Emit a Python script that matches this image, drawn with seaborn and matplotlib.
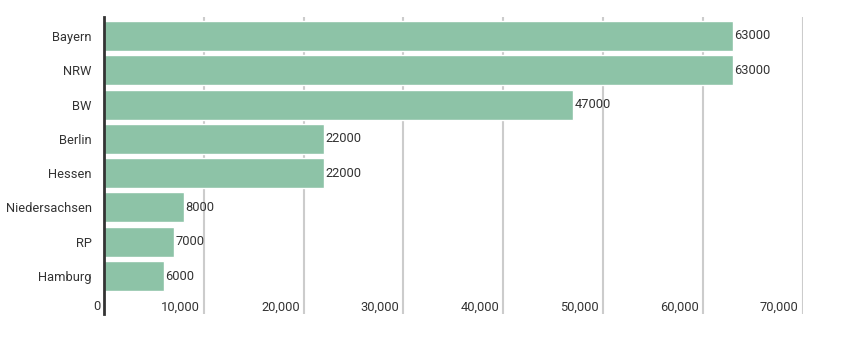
import matplotlib
matplotlib.use("Agg")
import matplotlib.pyplot as plt
import matplotlib.transforms as mtransforms
import seaborn as sns
import pandas as pd

categories = ["Bayern", "NRW", "BW", "Berlin", "Hessen", "Niedersachsen", "RP", "Hamburg"]
values = [63000, 63000, 47000, 22000, 22000, 8000, 7000, 6000]
xticks = [0, 10000, 20000, 30000, 40000, 50000, 60000, 70000]

sns.set_theme(style="white")
plt.rcParams['font.family'] = ['Roboto', 'DejaVu Sans']

df = pd.DataFrame({"state": categories, "value": values})

fig = plt.figure(figsize=(8.47, 3.40), dpi=100)
ax = fig.add_axes([104/847, 1 - 314/340, 699/847, 297/340])

for t in xticks[1:]:
    ax.axvline(t, color="#cccccc", lw=1.5, zorder=0)

sns.barplot(data=df, x="value", y="state", orient="h", color="#8dc3a7",
            saturation=1, width=0.875, ax=ax, zorder=2)

ax.set_xlim(0, 70050)
ax.set_ylim(8.108, -0.554)
ax.set_xlabel("")
ax.set_ylabel("")
ax.set_xticks([])
for s in ["top", "right", "bottom"]:
    ax.spines[s].set_visible(False)
ax.spines["left"].set_color("#333333")
ax.spines["left"].set_linewidth(2)
ax.tick_params(axis="y", length=0, pad=9, labelsize=9.3, labelcolor="#333333")

for i, v in enumerate(values):
    ax.text(v + 150, i, f"{v}", va="center", ha="left", fontsize=9.3, color="#333333", zorder=3)

trans = mtransforms.blended_transform_factory(ax.transData, ax.transAxes)
off = mtransforms.ScaledTranslation(-4/100, 0, fig.dpi_scale_trans)
for t in xticks:
    lbl = f"{t:,}"
    ax.text(t, 7/297, lbl, transform=trans + off, ha="right", va="center",
            fontsize=9.3, color="#333333")

fig.savefig("out.png", dpi=100)
